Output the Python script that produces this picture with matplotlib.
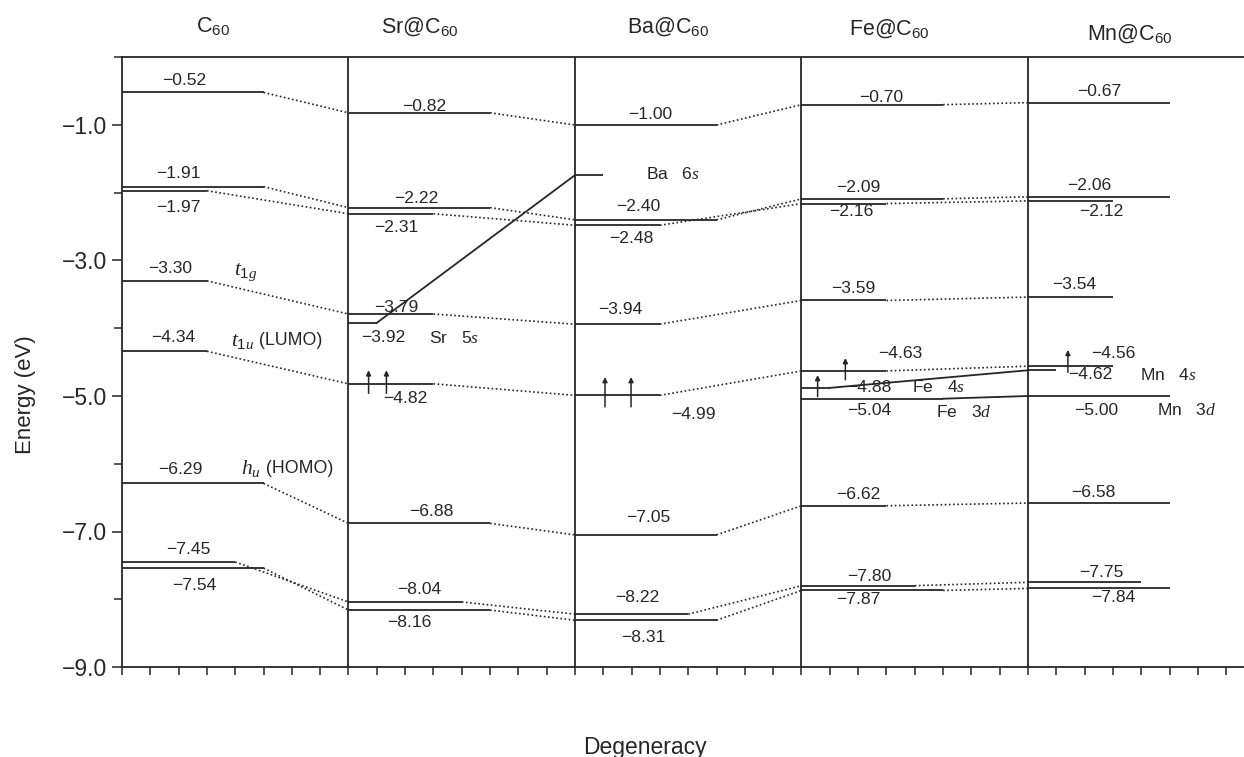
import matplotlib
matplotlib.use('Agg')
import matplotlib.pyplot as plt
import matplotlib.transforms as mtransforms
import numpy as np

plt.rcParams['font.family'] = ['Liberation Sans', 'DejaVu Sans']
plt.rcParams['mathtext.fontset'] = 'custom'
plt.rcParams['mathtext.rm'] = 'Liberation Sans'
plt.rcParams['mathtext.it'] = 'Liberation Serif:italic'
plt.rcParams['mathtext.bf'] = 'Liberation Sans:bold'

# ---------------- data ----------------
panel_titles = ['C$_{60}$', 'Sr@C$_{60}$', 'Ba@C$_{60}$', 'Fe@C$_{60}$', 'Mn@C$_{60}$']

# cage levels (eV), in correlated order, and their degeneracies
c60_E = [-0.52, -1.91, -1.97, -3.30, -4.34, -6.29, -7.45, -7.54]
c60_deg = [5, 5, 3, 3, 3, 5, 4, 5]
sr_E = [-0.82, -2.22, -2.31, -3.79, -4.82, -6.88, -8.04, -8.16]
sr_deg = [5, 5, 3, 3, 3, 5, 4, 5]
ba_E = [-1.00, -2.40, -2.48, -3.94, -4.99, -7.05, -8.22, -8.31]
ba_deg = [5, 5, 3, 3, 3, 5, 4, 5]
fe_E = [-0.70, -2.09, -2.16, -3.59, -4.63, -6.62, -7.80, -7.87]
fe_deg = [5, 5, 3, 3, 3, 3, 4, 5]
mn_E = [-0.67, -2.06, -2.12, -3.54, -4.56, -6.58, -7.75, -7.84]
mn_deg = [5, 5, 3, 3, 3, 5, 4, 5]
cage_E = [c60_E, sr_E, ba_E, fe_E, mn_E]
cage_deg = [c60_deg, sr_deg, ba_deg, fe_deg, mn_deg]

# metal atomic levels
metal_panel = [1, 2, 3, 3, 4, 4]
metal_E = [-3.92, -1.74, -4.88, -5.04, -4.62, -5.00]
metal_deg = [1, 1, 1, 5, 1, 5]
metal_name = ['Sr', 'Ba', 'Fe', 'Fe', 'Mn', 'Mn']
metal_orb = ['5s', '6s', '4s', '3d', '4s', '3d']
metal_showval = [True, False, True, True, True, True]
# correlation (solid) lines between metal levels: index pairs
metal_links = [(0, 1), (2, 4), (3, 5)]

# occupied (spin-up) electrons: (panel, level energy)
spin_panel = [1, 1, 2, 2, 3, 3, 4]
spin_E = [-4.82, -4.82, -4.99, -4.99, -4.63, -4.88, -4.62]

# orbital symmetry labels in C60 panel
sym_labels = ['$\\mathit{t}_{\\mathit{1g}}$', '$\\mathit{t}_{\\mathit{1u}}$', '$\\mathit{h}_{\\mathit{u}}$']
sym_extra = ['', '(LUMO)', '(HOMO)']
sym_E = [-3.30, -4.34, -6.29]

yticks_major = [-1.0, -3.0, -5.0, -7.0, -9.0]
yticks_minor = [0.0, -2.0, -4.0, -6.0, -8.0]

# ---------------- layout ----------------
PW = 8  # panel width in degeneracy units
XMAX = 39.63
c60_ldx = [2.2, 2.0, 2.0, 1.7, 1.8, 2.05, 2.34, 2.55]
c60_ldy = [0.18, 0.20, -0.255, 0.175, 0.20, 0.21, 0.19, -0.26]
sr_ldx = [2.67, 2.4, 1.7, 1.7, 2.0, 2.93, 2.5, 2.14]
sr_ldy = [0.10, 0.14, -0.21, 0.10, -0.21, 0.17, 0.18, -0.19]
ba_ldx = [2.65, 2.23, 1.98, 1.59, 4.2, 2.6, 2.2, 2.4]
ba_ldy = [0.15, 0.19, -0.20, 0.21, -0.29, 0.26, 0.24, -0.25]
fe_ldx = [2.8, 2.0, 1.75, 1.84, 3.5, 2.0, 2.4, 2.0]
fe_ldy = [0.11, 0.17, -0.12, 0.18, 0.26, 0.17, 0.14, -0.14]
mn_ldx = [2.5, 2.15, 2.58, 1.63, 3.0, 2.3, 2.6, 3.0]
mn_ldy = [0.16, 0.17, -0.16, 0.18, 0.19, 0.16, 0.15, -0.14]
lab_dx = [c60_ldx, sr_ldx, ba_ldx, fe_ldx, mn_ldx]
lab_dy = [c60_ldy, sr_ldy, ba_ldy, fe_ldy, mn_ldy]

metal_val_dx = [1.24, 0, 2.4, 2.4, 2.2, 2.4]
metal_val_dy = [-0.22, 0, 0.01, -0.17, -0.07, -0.21]
metal_name_dx = [2.86, 2.5, 3.9, 4.75, 3.95, 4.55]
metal_name_dy = [-0.22, 0.02, 0.01, -0.20, -0.07, -0.21]

spin_dx = [0.71, 1.34, 1.06, 1.98, 1.55, 0.57, 1.41]
spin_down = [0.14, 0.14, 0.17, 0.17, 0.13, 0.13, 0.03]
spin_up = [0.20, 0.20, 0.27, 0.27, 0.19, 0.19, 0.30]

sym_dx = [3.95, 3.85, 4.2]
sym_dy = [0.13, 0.16, 0.22]

title_dx = [3.23, 2.53, 3.29, 3.1, 3.6]
title_y = [1.0414, 1.0398, 1.0398, 1.0365, 1.0283]

INK = '#262626'
LW = 1.3
DOT = (0, (1.0, 1.5))
VAL_FS = 12.6

fig = plt.figure(figsize=(12.44, 7.57), dpi=100)
ax = fig.add_axes([122 / 1244, 90 / 757, 1122 / 1244, 609.75 / 757])
ax.set_xlim(0, XMAX)
ax.set_ylim(-9.0, 0.0)


def fmt(v):
    return f'{v:.2f}'.replace('-', '\u2212')


# panel dividers
for i in range(1, len(panel_titles)):
    ax.axvline(i * PW, color=INK, lw=LW)

# cage levels, labels and dotted correlation lines
for p in range(len(cage_E)):
    x0 = p * PW
    for j, (e, d) in enumerate(zip(cage_E[p], cage_deg[p])):
        ax.plot([x0, x0 + d], [e, e], color=INK, lw=LW, solid_capstyle='butt')
        ax.text(x0 + lab_dx[p][j], e + lab_dy[p][j], fmt(e), ha='center', va='center',
                fontsize=VAL_FS, color=INK)
        if p + 1 < len(cage_E):
            ax.plot([x0 + d, x0 + PW], [e, cage_E[p + 1][j]], color=INK, lw=1.2,
                    linestyle=DOT)

# metal levels
for k in range(len(metal_E)):
    x0 = metal_panel[k] * PW
    e = metal_E[k]
    ax.plot([x0, x0 + metal_deg[k]], [e, e], color=INK, lw=LW, solid_capstyle='butt')
    if metal_showval[k]:
        ax.text(x0 + metal_val_dx[k], e + metal_val_dy[k], fmt(e), ha='center',
                va='center', fontsize=VAL_FS, color=INK)
    ax.text(x0 + metal_name_dx[k], e + metal_name_dy[k],
            metal_name[k] + '   $\\mathit{' + metal_orb[k] + '}$',
            ha='left', va='center', fontsize=12.6, color=INK)

for a, b in metal_links:
    xa = metal_panel[a] * PW + metal_deg[a]
    xb = metal_panel[b] * PW
    ax.plot([xa, xb], [metal_E[a], metal_E[b]], color=INK, lw=LW)

# spin arrows
for k in range(len(spin_E)):
    x = spin_panel[k] * PW + spin_dx[k]
    e = spin_E[k]
    ax.annotate('', xy=(x, e + spin_up[k]), xytext=(x, e - spin_down[k]),
                arrowprops=dict(arrowstyle='-|>', color=INK, lw=1.1,
                                mutation_scale=7, shrinkA=0, shrinkB=0))

# symmetry labels
for k in range(len(sym_E)):
    t = ax.text(sym_dx[k], sym_E[k] + sym_dy[k], sym_labels[k], ha='left',
                va='center', fontsize=15.5, color=INK)
    if sym_extra[k]:
        ax.annotate(' ' + sym_extra[k], xy=(1, 0.5), xycoords=t, ha='left',
                    va='center', fontsize=12.8, color=INK)

# titles
trans = mtransforms.blended_transform_factory(ax.transData, ax.transAxes)
for p, ttl in enumerate(panel_titles):
    ax.text(p * PW + title_dx[p], title_y[p], ttl, transform=trans, ha='center',
            va='baseline', fontsize=15.5, color=INK, clip_on=False)

# axes styling
for s in ['left', 'bottom', 'top']:
    ax.spines[s].set_color(INK)
    ax.spines[s].set_linewidth(LW)
ax.spines['right'].set_visible(False)

ax.set_xticks(np.arange(0, XMAX, 1))
ax.set_xticklabels([])
ax.tick_params(axis='x', direction='out', length=6, width=1.1, color=INK)
ax.set_yticks(yticks_major)
ax.set_yticklabels([fmt(v)[:-1] for v in yticks_major])
ax.set_yticks(yticks_minor, minor=True)
ax.tick_params(axis='y', which='major', direction='out', length=7, width=1.1,
               color=INK, labelsize=16.5, labelcolor=INK, pad=4)
ax.tick_params(axis='y', which='minor', direction='out', length=6, width=1.1,
               color=INK)

ax.set_ylabel('Energy (eV)', fontsize=16, color=INK)
ax.yaxis.set_label_coords(-0.077, 0.446)
ax.set_xlabel('Degeneracy', fontsize=16.5, color=INK)
ax.xaxis.set_label_coords(0.466, -0.113)

fig.savefig('out.png', dpi=100, facecolor='white')
